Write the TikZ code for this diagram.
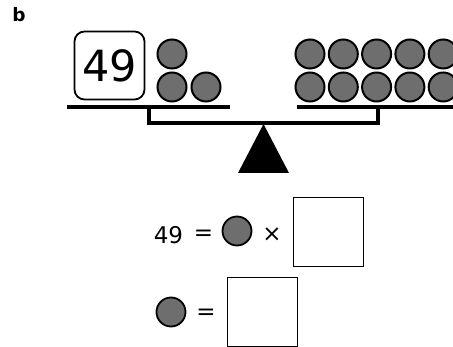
\documentclass[tikz,border=0pt]{standalone}
\usepackage{fontspec}
\setmainfont{DejaVu Sans}
\newfontfamily\labelfont{DejaVu Sans Bold}
\begin{document}
\begin{tikzpicture}[x=1pt,y=-1pt,
  ball/.style={circle,draw=black,fill=ballgray,line width=2pt,minimum size=29pt,inner sep=0pt},
  answer/.style={draw=black,line width=0.9pt,minimum width=70pt,minimum height=69pt,inner sep=0pt},
  beam/.style={line width=4pt},
  bracket/.style={line width=3.5pt},
  eqtext/.style={font=\fontsize{23}{26}\selectfont,inner sep=0pt}]
\definecolor{ballgray}{HTML}{6E6E6E}
\useasboundingbox (0,0) rectangle (453,347);
\clip (0,0) rectangle (453,347);
% panel label
\node[font=\labelfont\fontsize{18.5}{22}\selectfont,inner sep=0pt] (lbl) at (19,15) {b};
% left pan: number card and three balls
\node[draw=black,line width=1.8pt,rounded corners=10pt,minimum width=70pt,minimum height=68pt,inner sep=0pt,font=\fontsize{43}{48}\selectfont] (card) at (109.5,65.5) {49};
\node[ball] (l1) at (172,54) {};
\node[ball] (l2) at (172,87) {};
\node[ball] (l3) at (206,87) {};
% right pan: ten balls
\foreach \i in {0,...,4}{
  \node[ball] (rt\i) at (310+33.3*\i,54) {};
  \node[ball] (rb\i) at (310+33.3*\i,87) {};
}
% beams and connecting bracket
\coordinate (lbA) at (67,107);
\coordinate (lbB) at (230,107);
\coordinate (rbA) at (297,107);
\coordinate (rbB) at (465,107);
\draw[beam] (lbA) -- (lbB);
\draw[beam] (rbA) -- (rbB);
\coordinate (brL) at (149,107);
\coordinate (brR) at (378,107);
\draw[bracket] (brL) -- (149,123) -- (378,123) -- (brR);
% fulcrum
\coordinate (apex) at (263.5,124);
\fill (apex) -- (289,173) -- (238,173) -- cycle;
% first equation
\node[eqtext] (n49) at (168.5,235) {49};
\node[eqtext] (eq1) at (203.5,235) {=};
\node[ball,line width=1.8pt] (e1) at (237,231) {};
\node[eqtext] (times) at (272,235) {×};
\node[answer] (box1) at (328,231.5) {};
% second equation
\node[ball,line width=1.8pt] (e2) at (171,312) {};
\node[eqtext] (eq2) at (206,314) {=};
\node[answer] (box2) at (262,311.5) {};
\end{tikzpicture}
\end{document}
